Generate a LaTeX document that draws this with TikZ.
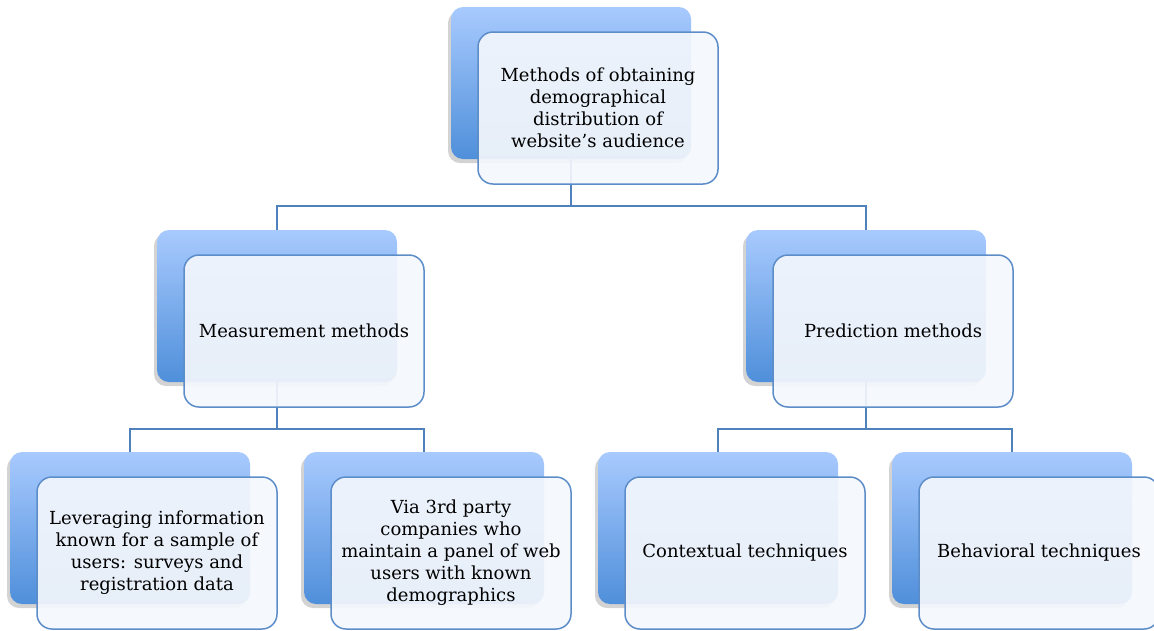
\documentclass[tikz,border=0pt]{standalone}
\usepackage{fontspec}
\setmainfont{DejaVu Serif}
\usetikzlibrary{positioning,calc,shadows}
\definecolor{backtop}{RGB}{168,202,254}
\definecolor{backbot}{RGB}{79,143,218}
\definecolor{frontfill}{RGB}{244,247,252}
\definecolor{frontline}{RGB}{92,141,200}
\definecolor{linkblue}{RGB}{79,129,189}
\tikzset{
  chart/.style={x=1pt,y=-1pt,
    font=\fontsize{18}{22}\selectfont},
  backbox/.style={rectangle,rounded corners=12pt,
    minimum width=240pt,minimum height=152pt,inner sep=0pt,
    top color=backtop,bottom color=backbot,draw=none,
    drop shadow={shadow xshift=-3pt,shadow yshift=-4pt,opacity=0.35}},
  frontbox/.style={rectangle,rounded corners=15pt,
    minimum width=240pt,minimum height=152pt,inner sep=0pt,
    draw=frontline,line width=1.5pt,fill=frontfill,
    fill opacity=0.92,text opacity=1,align=center},
  link/.style={draw=linkblue,line width=1.5pt}
}
\begin{document}
\begin{tikzpicture}[chart]
  \useasboundingbox (0,0) rectangle (1154,630);
  % back boxes
  \node[backbox] (topb) at (571,83) {};
  \node[backbox] (measb) at (277,306) {};
  \node[backbox] (predb) at (866,306) {};
  \node[backbox] (levb) at (130,528) {};
  \node[backbox] (viab) at (424,528) {};
  \node[backbox] (contb) at (718,528) {};
  \node[backbox] (behb) at (1012,528) {};
  % connectors
  \coordinate (split1) at (571,206);
  \coordinate (split2) at (277,429);
  \coordinate (split3) at (866,429);
  \draw[link] (topb.south) -- (split1) -| (measb.north);
  \draw[link] (split1) -| (predb.north);
  \draw[link] (measb.south) -- (split2) -| (levb.north);
  \draw[link] (split2) -| (viab.north);
  \draw[link] (predb.south) -- (split3) -| (contb.north);
  \draw[link] (split3) -| (behb.north);
  % front boxes
  \node[frontbox] (top) at ($(topb)+(27,25)$) {Methods of obtaining\\demographical\\distribution of\\website’s audience};
  \node[frontbox] (meas) at ($(measb)+(27,25)$) {Measurement methods};
  \node[frontbox] (pred) at ($(predb)+(27,25)$) {Prediction methods};
  \node[frontbox] (lev) at ($(levb)+(27,25)$) {Leveraging information\\known for a sample of\\users: surveys and\\registration data};
  \node[frontbox] (via) at ($(viab)+(27,25)$) {Via 3rd party\\companies who\\maintain a panel of web\\users with known\\demographics};
  \node[frontbox] (cont) at ($(contb)+(27,25)$) {Contextual techniques};
  \node[frontbox] (beh) at ($(behb)+(27,25)$) {Behavioral techniques};
\end{tikzpicture}
\end{document}
